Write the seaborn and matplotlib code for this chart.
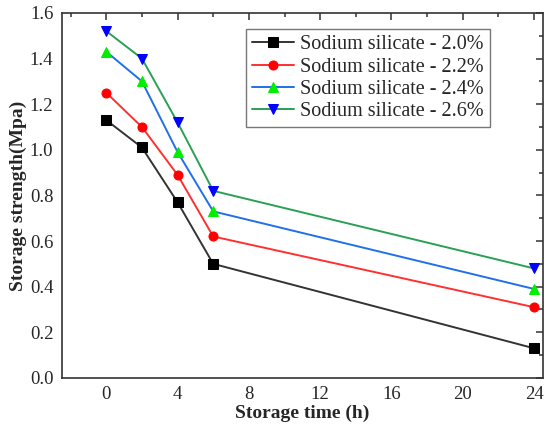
import numpy as np
import pandas as pd
import seaborn as sns
import matplotlib.pyplot as plt
from matplotlib.ticker import MultipleLocator

time_h = [0, 2, 4, 6, 24]
labels = ["Sodium silicate - 2.0%", "Sodium silicate - 2.2%",
          "Sodium silicate - 2.4%", "Sodium silicate - 2.6%"]
s20 = [1.13, 1.01, 0.77, 0.50, 0.13]
s22 = [1.25, 1.10, 0.89, 0.62, 0.31]
s24 = [1.43, 1.30, 0.99, 0.73, 0.39]
s26 = [1.52, 1.40, 1.12, 0.82, 0.48]

line_colors = ["#333333", "#FF3030", "#2070E8", "#2AA055"]
marker_colors = ["#000000", "#FF0000", "#00EE00", "#0000FF"]
markers = ["s", "o", "^", "v"]

sns.set_style("white")
plt.rcParams['font.family'] = ['Liberation Serif', 'DejaVu Serif']

fig = plt.figure(figsize=(5.49, 4.29), dpi=100)
ax = fig.add_axes([0.1124, 0.119, 0.8766, 0.851])

for lab, vals, lc, mc, m in zip(labels, [s20, s22, s24, s26], line_colors, marker_colors, markers):
    df = pd.DataFrame({"t": time_h, "v": vals})
    sns.lineplot(data=df, x="t", y="v", ax=ax, color=lc, lw=1.4, marker=m,
                 markersize=6.5, markerfacecolor=mc, markeredgecolor=mc, label=lab)

ax.set_xlim(-2.5, 24.5)
ax.set_ylim(0, 1.6)
ax.xaxis.set_major_locator(MultipleLocator(4))
ax.xaxis.set_minor_locator(MultipleLocator(2))
ax.yaxis.set_major_locator(MultipleLocator(0.2))
ax.yaxis.set_minor_locator(MultipleLocator(0.1))
ax.yaxis.set_major_formatter(plt.FormatStrFormatter('%.1f'))
ax.tick_params(which='both', direction='in', top=True, right=True, labelsize=13.5,
               color='#333333', width=1.1, pad=6)
ax.tick_params(which='major', length=5)
ax.tick_params(which='minor', length=3)
ax.tick_params(labeltop=False, labelright=False)
for sp in ax.spines.values():
    sp.set_color('#333333')
    sp.set_linewidth(1.2)

ax.set_xlabel("Storage time (h)", fontsize=14, fontweight='bold', labelpad=1)
ax.set_ylabel("Storage strength(Mpa)", fontsize=14, fontweight='bold', labelpad=2)

leg = ax.legend(loc='upper right', bbox_to_anchor=(0.89, 0.955), fontsize=14.5,
                frameon=True, fancybox=False, edgecolor='#555555', handlelength=2.1,
                borderpad=0.3, labelspacing=0.15, handletextpad=0.3, borderaxespad=0)
leg.get_frame().set_linewidth(1.0)

fig.savefig("out.png", dpi=100)
